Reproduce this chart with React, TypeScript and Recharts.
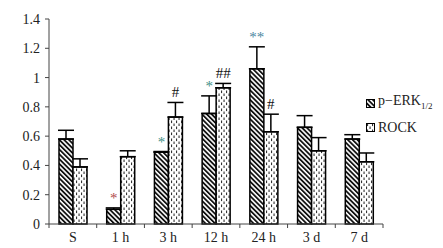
import React from 'react';
import { BarChart, Bar, XAxis, YAxis, ErrorBar, LabelList } from 'recharts';

const categories = ['S', '1 h', '3 h', '12 h', '24 h', '3 d', '7 d'];
const erkValues = [0.58, 0.1, 0.49, 0.755, 1.06, 0.66, 0.58];
const erkErrors = [0.06, 0.01, 0.005, 0.12, 0.15, 0.08, 0.03];
const rockValues = [0.39, 0.46, 0.73, 0.93, 0.63, 0.5, 0.425];
const rockErrors = [0.055, 0.04, 0.1, 0.03, 0.12, 0.09, 0.06];
const erkMarks = ['', '*', '*', '*', '**', '', ''];
const rockMarks = ['', '', '#', '##', '#', '', ''];
const yTicks = [0, 0.2, 0.4, 0.6, 0.8, 1, 1.2, 1.4];
const seriesNames = ['p−ERK', 'ROCK'];

const erkMarkColors = ['#333', '#b04a4a', '#3f8f86', '#3f8f86', '#4a86a0', '#333', '#333'];
const FONT = '"Liberation Serif", serif';

const data = categories.map((c, i) => ({
  name: c,
  erk: erkValues[i],
  rock: rockValues[i],
  erkErr: [0, erkErrors[i]],
  rockErr: [0, rockErrors[i]],
  erkMark: erkMarks[i],
  rockMark: rockMarks[i],
}));

const makeMark = (errors: number[], values: number[], colors: string[] | null) => (props: any) => {
  const { x, y, width, height, value, index } = props;
  if (!value) return null;
  const i = typeof index === 'number' ? index : 0;
  const pxPerUnit = values[i] ? Number(height) / values[i] : 0;
  const errTop = Number(y) - errors[i] * pxPerUnit;
  return (
    <text
      x={Number(x) + Number(width) / 2}
      y={errTop - 5}
      textAnchor="middle"
      fontFamily={FONT}
      fontSize={15}
      fill={colors ? colors[i] : '#111'}
    >
      {value}
    </text>
  );
};

const XTick = (props: any) => {
  const { x, y, payload, width, visibleTicksCount } = props;
  const count = visibleTicksCount || categories.length;
  const band = (Number(width) || 334) / count;
  const left = Number(x) - band / 2;
  const axisY = Number(y) - 8;
  const isLast = payload && payload.index === count - 1;
  return (
    <g>
      <line x1={left} x2={left} y1={axisY} y2={axisY + 4} stroke="#444" strokeWidth={1} />
      {isLast && (
        <line x1={left + band} x2={left + band} y1={axisY} y2={axisY + 4} stroke="#444" strokeWidth={1} />
      )}
      <text x={x} y={axisY + 18} textAnchor="middle" fontFamily={FONT} fontSize={14} fill="#222">
        {payload.value}
      </text>
    </g>
  );
};

const LegendBox = () => (
  <div
    style={{
      position: 'absolute',
      left: 366,
      top: 90,
      fontFamily: FONT,
      fontSize: 14,
      color: '#222',
      lineHeight: '22px',
    }}
  >
    <div style={{ display: 'flex', alignItems: 'center' }}>
      <svg width={9} height={9} style={{ marginRight: 3 }}>
        <rect x={0.5} y={0.5} width={8} height={8} fill="url(#erkHatch)" stroke="#000" strokeWidth={1} />
      </svg>
      <span>
        {seriesNames[0]}
        <sub style={{ fontSize: 9 }}>1/2</sub>
      </span>
    </div>
    <div style={{ display: 'flex', alignItems: 'center' }}>
      <svg width={9} height={9} style={{ marginRight: 3 }}>
        <rect x={0.5} y={0.5} width={8} height={8} fill="url(#rockDots)" stroke="#000" strokeWidth={1} />
      </svg>
      <span>{seriesNames[1]}</span>
    </div>
  </div>
);

export default function App() {
  return (
    <div style={{ position: 'absolute', left: 0, top: 0, width: 443, height: 248, background: '#fff' }}>
      <BarChart
        width={443}
        height={248}
        data={data}
        margin={{ top: 19, right: 60, bottom: 0, left: 0 }}
        barGap={0}
        barSize={14}
      >
        <defs>
          <pattern id="erkHatch" patternUnits="userSpaceOnUse" width={3.4} height={3.4} patternTransform="rotate(-45)">
            <rect x={0} y={0} width={3.4} height={3.4} fill="#fff" />
            <rect x={0} y={0} width={1.8} height={3.4} fill="#111" />
          </pattern>
          <pattern id="rockDots" patternUnits="userSpaceOnUse" width={5} height={6}>
            <rect x={0} y={0} width={5} height={6} fill="#fff" />
            <rect x={1} y={0.5} width={1.1} height={2.6} fill="#333" />
            <rect x={3.5} y={3.5} width={1.1} height={2.6} fill="#333" />
          </pattern>
        </defs>
        <XAxis
          dataKey="name"
          height={24}
          axisLine={{ stroke: '#444', strokeWidth: 1 }}
          tickLine={false}
          tick={<XTick />}
          interval={0}
        />
        <YAxis
          width={49}
          domain={[0, 1.4]}
          ticks={yTicks}
          interval={0}
          axisLine={{ stroke: '#444', strokeWidth: 1 }}
          tickLine={{ stroke: '#444' }}
          tickSize={4}
          tickMargin={5}
          tick={{ fontFamily: FONT, fontSize: 14, fill: '#222' }}
        />
        <Bar dataKey="erk" name={seriesNames[0]} fill="url(#erkHatch)" stroke="#000" strokeWidth={1.5} isAnimationActive={false}>
          <ErrorBar dataKey="erkErr" width={8} stroke="#000" strokeWidth={1.5} direction="y" />
          <LabelList dataKey="erkMark" content={makeMark(erkErrors, erkValues, erkMarkColors)} />
        </Bar>
        <Bar dataKey="rock" name={seriesNames[1]} fill="url(#rockDots)" stroke="#000" strokeWidth={1.5} isAnimationActive={false}>
          <ErrorBar dataKey="rockErr" width={8} stroke="#000" strokeWidth={1.5} direction="y" />
          <LabelList dataKey="rockMark" content={makeMark(rockErrors, rockValues, null)} />
        </Bar>
      </BarChart>
      <LegendBox />
    </div>
  );
}
